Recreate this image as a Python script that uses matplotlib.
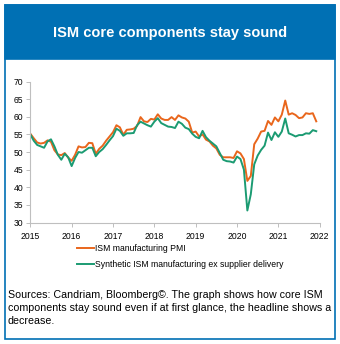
import numpy as np
import matplotlib
matplotlib.use("Agg")
import matplotlib.pyplot as plt
from matplotlib.patches import Rectangle

plt.rcParams.update({"font.family": ["Liberation Sans", "DejaVu Sans"]})

# ── Data: monthly, Jan 2015 .. Dec 2021 ─────────────────────────────────
ism_pmi = [
    55.2, 53.9, 52.7, 52.4, 52.6, 53.3, 52.9, 50.5, 49.3, 49.1, 49.7, 48.4,   # 2015
    47.5, 49.2, 51.6, 51.3, 51.4, 52.6, 52.5, 49.5, 50.9, 51.8, 53.2, 54.4,   # 2016
    55.6, 57.6, 57.0, 54.9, 56.3, 56.4, 56.6, 57.4, 59.9, 58.7, 58.5, 59.4,   # 2017
    59.2, 60.7, 59.5, 59.1, 59.1, 59.9, 59.1, 60.4, 59.8, 59.5, 58.6, 55.5,   # 2018
    55.8, 54.4, 55.0, 53.5, 53.0, 51.8, 51.0, 49.2, 48.5, 48.5, 48.5, 48.3,   # 2019
    50.2, 49.6, 48.0, 41.8, 43.2, 52.2, 53.8, 55.8, 56.0, 58.8, 57.7, 59.8,   # 2020
    58.7, 60.6, 64.6, 60.6, 61.0, 60.5, 59.6, 59.8, 61.0, 60.8, 61.0, 58.7,   # 2021
]
ism_ex_supplier = [
    55.0, 53.2, 52.0, 51.6, 51.2, 53.0, 53.6, 51.6, 49.2, 47.8, 49.5, 48.5,   # 2015
    46.0, 48.3, 50.0, 49.8, 50.5, 51.2, 51.2, 48.8, 50.0, 50.8, 52.0, 53.3,   # 2016
    54.5, 56.6, 56.0, 54.6, 55.3, 55.3, 55.4, 57.6, 58.6, 58.1, 57.6, 57.2,   # 2017
    58.6, 59.6, 58.2, 57.7, 57.2, 57.1, 56.8, 58.6, 58.0, 56.9, 56.5, 55.2,   # 2018
    54.3, 53.9, 56.0, 54.2, 53.2, 52.4, 51.6, 49.7, 47.8, 47.4, 47.3, 47.0,   # 2019
    48.7, 48.0, 45.0, 33.4, 38.0, 46.5, 49.0, 50.6, 51.8, 55.5, 53.4, 55.6,   # 2020
    54.3, 55.8, 59.5, 55.3, 54.9, 54.4, 54.8, 54.8, 55.3, 55.2, 56.2, 55.9,   # 2021
]
start_year = 2015
years = list(range(2015, 2023))
y_ticks = [30, 35, 40, 45, 50, 55, 60, 65, 70]

title = "ISM core components stay sound"
labels = ["ISM manufacturing PMI",
          "Synthetic ISM manufacturing ex supplier delivery"]
caption = ("Sources: Candriam, Bloomberg©. The graph shows how core ISM\n"
           "components stay sound even if at first glance, the headline shows a\n"
           "decrease.")

BLUE = "#0070B4"
ORANGE = "#E9661C"
GREEN = "#1B9B72"
GRID = "#BFBFBF"

W, H = 340, 344
fig = plt.figure(figsize=(W / 100, H / 100), dpi=100)

def fx(px): return px / W
def fy(py): return 1 - py / H

# frame + header band
fig.patches.append(Rectangle((fx(5), fy(339)), fx(330), 334 / H, transform=fig.transFigure,
                             fill=False, edgecolor=BLUE, lw=1.2))
fig.patches.append(Rectangle((fx(5), fy(59)), fx(330), 54 / H, transform=fig.transFigure,
                             facecolor=BLUE, edgecolor=BLUE, lw=1.2))
fig.text(fx(170), fy(33), title, color="white", fontsize=10.5, fontweight="bold",
         ha="center", va="center")

# ── Chart ────────────────────────────────────────────────────────────────
ax = fig.add_axes([fx(30.3), fy(222.5), fx(319.7 - 30.3), (222.5 - 81.5) / H])
x = start_year + np.arange(len(ism_pmi)) / 12
ax.plot(x, ism_pmi, color=ORANGE, lw=1.4, label=labels[0])
ax.plot(x, ism_ex_supplier, color=GREEN, lw=1.4, label=labels[1])

ax.set_xlim(years[0], years[-1])
ax.set_ylim(y_ticks[0], y_ticks[-1])
ax.set_xticks(years)
ax.set_yticks(y_ticks)
ax.tick_params(axis="both", labelsize=6.2, colors=GRID, labelcolor="black",
               length=3, width=0.7, direction="out", pad=2)
ax.tick_params(axis="x", pad=4)
for s in ["top", "right"]:
    ax.spines[s].set_visible(False)
for s in ["left", "bottom"]:
    ax.spines[s].set_color(GRID)
    ax.spines[s].set_linewidth(0.8)

leg = fig.legend(loc="upper left", bbox_to_anchor=(fx(77), fy(244)), frameon=False,
                 fontsize=6.2, handlelength=2.0, handletextpad=0.1, labelspacing=0.85,
                 borderaxespad=0, borderpad=0)

fig.text(fx(8), fy(290), caption, fontsize=7.7, ha="left", va="top", linespacing=1.4)

fig.savefig("out.png", dpi=100)
